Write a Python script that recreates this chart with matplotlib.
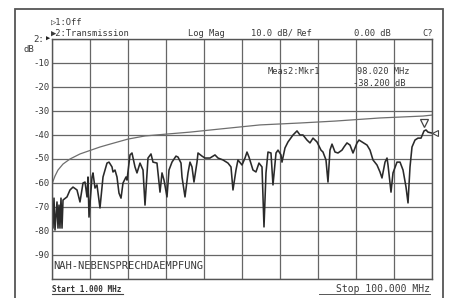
import numpy as np
import matplotlib.pyplot as plt
from matplotlib.lines import Line2D
from matplotlib.patches import Rectangle

# transmission trace (MHz, dB)
freq = [1.0, 1.26, 1.52, 1.78, 2.30, 2.56, 2.82, 3.08, 3.34, 3.61, 3.87, 4.91,
        5.69, 6.47, 7.51, 8.29, 9.08, 9.60, 10.12, 10.38, 10.64, 11.42, 11.68,
        12.20, 12.72, 13.50, 14.29, 15.33, 15.85, 16.63, 16.89, 17.41, 17.93,
        18.45, 18.98, 19.50, 20.28, 20.54, 21.32, 21.84, 22.62, 23.14, 23.93,
        24.71, 25.23, 26.01, 26.79, 27.31, 28.35, 28.61, 29.14, 29.66, 30.18,
        30.96, 31.48, 32.26, 33.30, 33.83, 34.61, 34.87, 35.65, 36.43, 36.95,
        37.47, 37.99, 38.78, 39.04, 40.08, 40.86, 42.16, 43.46, 44.25, 45.55,
        46.85, 47.63, 48.15, 48.93, 49.45, 50.50, 51.28, 51.80, 52.32, 53.36,
        54.14, 54.92, 55.71, 56.23, 56.75, 57.27, 58.05, 58.57, 59.36, 59.88,
        60.66, 60.92, 61.70, 62.48, 63.79, 64.83, 65.61, 66.39, 67.43, 68.21,
        69.00, 70.04, 71.08, 71.60, 72.38, 72.90, 73.42, 73.95, 74.73, 75.51,
        76.55, 77.07, 77.85, 78.64, 79.42, 80.46, 80.98, 81.76, 83.07, 83.85,
        84.63, 85.67, 86.45, 86.97, 87.76, 88.28, 88.54, 89.32, 89.84, 90.88,
        91.67, 92.45, 93.23, 93.75, 94.27, 94.79, 95.57, 96.35, 97.14, 97.92,
        98.44, 98.96, 100.0]
trace = [-67.1, -78.8, -66.3, -79.6, -67.9, -78.8, -69.2, -78.8, -66.3, -78.8,
         -67.1, -65.8, -62.9, -61.7, -62.9, -67.9, -60.0, -59.6, -65.8, -57.5,
         -74.2, -57.5, -55.8, -62.1, -60.8, -70.4, -57.5, -51.7, -51.3, -53.3,
         -55.4, -54.6, -57.5, -64.2, -66.3, -60.0, -57.5, -58.8, -48.3, -47.5,
         -53.3, -55.8, -51.7, -54.6, -69.2, -49.6, -47.9, -51.3, -51.7, -55.8,
         -63.8, -55.8, -58.8, -65.8, -54.6, -51.3, -48.8, -49.2, -51.7, -57.5,
         -65.8, -55.8, -51.3, -53.3, -59.6, -51.3, -47.5, -48.8, -49.6, -49.6,
         -48.3, -49.6, -50.4, -51.7, -53.3, -62.9, -54.6, -50.4, -52.5, -49.6,
         -47.1, -49.2, -54.6, -55.4, -51.7, -53.3, -78.3, -55.8, -47.1, -47.5,
         -60.8, -47.5, -46.3, -48.3, -51.3, -45.4, -42.9, -40.0, -38.3, -40.0,
         -40.0, -42.1, -43.3, -41.3, -42.9, -46.3, -47.1, -50.4, -59.6, -46.3,
         -43.8, -47.1, -47.5, -46.3, -45.0, -43.3, -44.2, -47.5, -43.3, -42.1,
         -42.9, -44.2, -46.3, -50.4, -52.5, -55.4, -57.9, -51.3, -49.6, -52.5,
         -63.8, -55.8, -51.3, -51.3, -54.6, -61.7, -68.3, -53.3, -45.0, -42.1,
         -41.3, -41.3, -38.3, -37.9, -38.8, -39.2]

# smooth limit curve
lim_freq = [1.0, 1.78, 2.56, 3.87, 5.69, 8.29, 11.16, 13.50, 16.11, 20.80,
            25.23, 30.96, 36.95, 44.77, 55.19, 65.61, 74.73, 86.45, 97.66, 100.0]
lim_db = [-60.4, -57.1, -54.6, -52.1, -50.0, -47.9, -46.3, -45.0, -43.8, -41.7,
          -40.4, -39.6, -38.8, -37.5, -35.8, -35.0, -34.2, -32.9, -32.1, -31.7]

mkr_freq = 98.02
mkr_db = -38.2
ylabels = ['-10', '-20', '-30', '-40', '-50', '-60', '-70', '-80', '-90']

W, H = 451, 298
fig = plt.figure(figsize=(W / 100, H / 100), dpi=100)
fig.patch.set_facecolor('white')

def fx(x):
    return x / W

def fy(y):
    return 1 - y / H

mono = ['DejaVu Sans Mono', 'DejaVu Sans']
ink = '#3a3a3a'

# outer screen frame
fig.add_artist(Rectangle((fx(15), fy(299)), fx(443) - fx(15), fy(9) - fy(299),
                         fill=False, edgecolor='#555555', linewidth=1.3,
                         transform=fig.transFigure))

ax = fig.add_axes([fx(52), fy(279), fx(432) - fx(52), fy(39) - fy(279)])
ax.set_xlim(1, 100)
ax.set_ylim(-100, 0)
ax.set_xticks(np.linspace(1, 100, 11))
ax.set_yticks(np.arange(-100, 1, 10))
ax.grid(True, color='#666666', linewidth=0.9)
ax.tick_params(length=0, labelbottom=False, labelleft=False)
for s in ax.spines.values():
    s.set_color('#555555')
    s.set_linewidth(1.0)

ax.plot(lim_freq, lim_db, color='#6e6e6e', linewidth=0.9)
ax.plot(freq, trace, color='#2a2a2a', linewidth=1.15)
ax.plot([mkr_freq], [mkr_db + 3.2], marker='v', markersize=6, markerfacecolor='white',
        markeredgecolor='#444444', markeredgewidth=0.9, clip_on=False)
ax.plot([100.8], [mkr_db - 1.0], marker='<', markersize=4, markerfacecolor='white',
        markeredgecolor='#444444', markeredgewidth=0.8, clip_on=False)

# y labels
for i, lab in enumerate(ylabels):
    fig.text(fx(50), fy(63 + 24 * i), lab, ha='right', va='center',
             fontsize=6.5, family=mono, color=ink)
fig.text(fx(44), fy(40), '2:', ha='right', va='center', fontsize=6.5, family=mono, color=ink)
fig.text(fx(46), fy(39), '\u25b6', ha='left', va='center', fontsize=5, family=mono, color='#222222')
fig.text(fx(24), fy(49), 'dB', ha='left', va='center', fontsize=6.5, family=mono, color=ink)

# header
hs = 6.3
fig.text(fx(51), fy(22), '\u25b71:Off', ha='left', va='center', fontsize=hs, family=mono, color=ink)
fig.text(fx(51), fy(33), '\u25b62:Transmission', ha='left', va='center', fontsize=hs, family=mono, color=ink)
fig.text(fx(188), fy(33), 'Log Mag', ha='left', va='center', fontsize=hs, family=mono, color=ink)
fig.text(fx(251), fy(33), '10.0 dB/', ha='left', va='center', fontsize=hs, family=mono, color=ink)
fig.text(fx(296), fy(33), 'Ref', ha='left', va='center', fontsize=hs, family=mono, color=ink)
fig.text(fx(354), fy(33), '0.00 dB', ha='left', va='center', fontsize=hs, family=mono, color=ink)
fig.text(fx(422), fy(33), 'C?', ha='left', va='center', fontsize=hs, family=mono, color=ink)

# marker readout
fig.text(fx(268), fy(71), 'Meas2:Mkr1', ha='left', va='center', fontsize=hs, family=mono, color=ink)
fig.text(fx(357), fy(71), '98.020 MHz', ha='left', va='center', fontsize=hs, family=mono, color=ink)
fig.text(fx(353), fy(83), '-38.200 dB', ha='left', va='center', fontsize=hs, family=mono, color=ink)

fig.text(fx(53), fy(266), 'NAH-NEBENSPRECHDAEMPFUNG', ha='left', va='center',
         fontsize=7.5, family=mono, color=ink)

# start / stop
fig.text(fx(52), fy(289), 'Start 1.000 MHz', ha='left', va='center', fontsize=5.5,
         family=mono, fontweight='bold', color='#333333')
fig.add_artist(Line2D([fx(52), fx(123)], [fy(294), fy(294)], color='#444444',
                      linewidth=0.8, transform=fig.transFigure))
fig.text(fx(430), fy(289), 'Stop 100.000 MHz', ha='right', va='center', fontsize=7,
         family=mono, color=ink)
fig.add_artist(Line2D([fx(319), fx(430)], [fy(294), fy(294)], color='#555555',
                      linewidth=0.7, transform=fig.transFigure))

fig.savefig('out.png', dpi=100, facecolor='white')
plt.close(fig)
